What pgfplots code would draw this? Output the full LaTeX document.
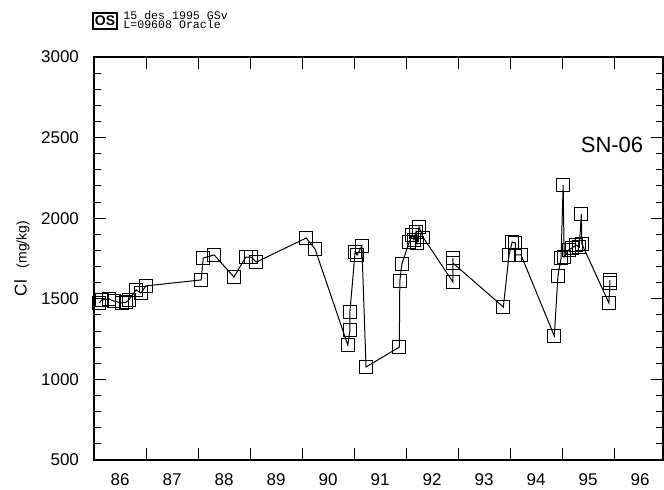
\documentclass[border=0pt]{standalone}
\usepackage{pgfplots}
\pgfplotsset{compat=1.18}
\usepackage{fontspec}
\setmainfont{Liberation Sans}
\newfontfamily\monofont{Liberation Mono}

% Chloride concentration, well SN-06 (decimal year, mg/kg)
\pgfplotstableread{
year   cl
86.10  1474
86.15  1493
86.29  1499
86.38  1486
86.54  1474
86.62  1480
86.67  1493
86.81  1555
86.90  1536
87.00  1580
88.06  1617
88.10  1753
88.31  1772
88.69  1635
88.92  1759
89.02  1759
89.12  1728
90.08  1877
90.25  1809
90.88  1213
90.92  1306
90.92  1418
91.02  1790
91.06  1772
91.15  1828
91.23  1077
91.87  1200
91.88  1611
91.92  1716
92.06  1852
92.12  1896
92.15  1865
92.19  1914
92.21  1846
92.25  1945
92.33  1880
92.90  1604
92.90  1753
92.90  1722
93.87  1449
93.98  1772
94.04  1852
94.10  1846
94.10  1772
94.21  1772
94.85  1269
94.92  1641
94.98  1753
95.02  2206
95.04  1760
95.13  1803
95.19  1815
95.27  1834
95.33  1821
95.37  2026
95.38  1840
95.90  1474
95.92  1598
95.92  1617
}\cldata

\begin{document}
\begin{tikzpicture}
\begin{axis}[
  name=ax,
  scale only axis,
  width=284.5pt, height=201.5pt,
  xmin=86, xmax=96.94,
  ymin=500, ymax=3000,
  axis line style={line width=0.6pt},
  xtick={87,88,...,96},
  xticklabels={},
  extra x ticks={86.5,87.5,...,96.5},
  extra x tick labels={86,87,88,89,90,91,92,93,94,95,96},
  extra x tick style={tick style={draw=none}},
  ytick={500,1000,...,3000},
  minor y tick num=4,
  tick style={black, line width=0.5pt},
  major tick length=6pt,
  minor tick length=3.5pt,
  tick label style={font=\fontsize{8.5}{10}\selectfont},
  xticklabel style={yshift=-3.5pt},
  yticklabel style={xshift=-4pt},
  /pgf/number format/assume math mode=true,
  /pgf/number format/1000 sep={},
]
\addplot[black, line width=0.5pt, mark=square, mark size=3.2pt,
  mark options={solid, line width=0.5pt}] table[x=year, y=cl] {\cldata};
\node[font=\fontsize{11}{13}\selectfont] at (axis cs:95.96,2457) {SN-06};
\end{axis}

% axis title on the left
\node[rotate=90, anchor=center] at ([xshift=-36pt]ax.west)
  {\fontsize{8.5}{10}\selectfont Cl\hspace{6pt}\fontsize{7}{9}\selectfont (mg/kg)};

% plot header: logo box and job information
\draw[line width=0.7pt] ([shift={(-0.5pt,14pt)}]ax.north west) rectangle ([shift={(11.5pt,22pt)}]ax.north west);
\node[font=\fontsize{7}{8}\selectfont\bfseries, inner sep=0pt] at ([shift={(5.5pt,18pt)}]ax.north west) {OS};
\node[anchor=west, inner sep=0pt, align=left,
  font=\monofont\fontsize{5.8}{4.6}\selectfont] at ([shift={(14.5pt,18.4pt)}]ax.north west)
  {15 des 1995 GSv\\L=09608 Oracle};

\pgfresetboundingbox
\path ([shift={(-47pt,-15pt)}]ax.south west) rectangle ([shift={(0.5pt,28.5pt)}]ax.north east);
\end{tikzpicture}
\end{document}
